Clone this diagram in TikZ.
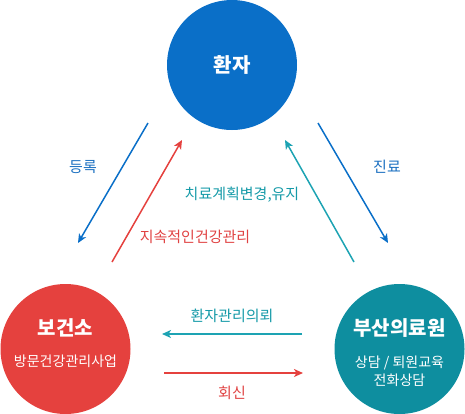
\documentclass[tikz,border=0pt]{standalone}
\usepackage{fontspec}
\setmainfont{Noto Sans CJK KR}
\usetikzlibrary{arrows.meta}
\definecolor{hblue}{HTML}{0A6FC8}
\definecolor{hred}{HTML}{E5413E}
\definecolor{hteal}{HTML}{0E8E9F}
\definecolor{lteal}{HTML}{1DA3B3}
\definecolor{tblue}{HTML}{1A6FC0}
\definecolor{tred}{HTML}{E04242}
\definecolor{tteal}{HTML}{159AA8}

\begin{document}
\begin{tikzpicture}[x=1pt, y=-1pt,
  circ/.style = {circle, minimum size=130pt, inner sep=0pt},
  title/.style = {white, font=\fontsize{20}{22}\selectfont\bfseries},
  sub/.style = {white, font=\fontsize{14}{18}\selectfont, align=center},
  lbl/.style = {font=\fontsize{15}{17}\selectfont},
  arr/.style = {line width=1.5pt, -{Stealth[length=9pt, width=8pt, inset=2.5pt]}}]
\useasboundingbox (0,0) rectangle (465,413);
% circles
\node [circ, fill=hblue] (patient) at (232,65) {};
\node [circ, fill=hred] (center) at (65.5,349) {};
\node [circ, fill=hteal] (hosp) at (399.5,349) {};
\node [title] (patientT) at (232,65) {환자};
\node [title] (centerT) at (65.5,328) {보건소};
\node [sub] (centerS) at (65.5,361) {방문건강관리사업};
\node [title] (hospT) at (399.5,328) {부산의료원};
\node [sub] (hospS) at (399.5,371) {상담 / 퇴원교육\\전화상담};
% arrow ends
\coordinate (regA) at (148,123);
\coordinate (regB) at (78,243);
\coordinate (careA) at (112,262);
\coordinate (careB) at (182,140);
\coordinate (planA) at (354,262);
\coordinate (planB) at (285,140);
\coordinate (treatA) at (318,123);
\coordinate (treatB) at (388,243);
\coordinate (referA) at (302,334);
\coordinate (referB) at (162,334);
\coordinate (replyA) at (164,373);
\coordinate (replyB) at (303,373);
% arrows
\draw [arr, hblue] (regA) -- (regB);
\draw [arr, hred] (careA) -- (careB);
\draw [arr, lteal] (planA) -- (planB);
\draw [arr, hblue] (treatA) -- (treatB);
\draw [arr, lteal] (referA) -- (referB);
\draw [arr, hred] (replyA) -- (replyB);
% labels
\node [lbl, tblue] (regL) at (83,167) {등록};
\node [lbl, tred] (careL) at (195,237) {지속적인건강관리};
\node [lbl, tteal] (planL) at (242,195) {치료계획변경,유지};
\node [lbl, tblue] (treatL) at (387,167) {진료};
\node [lbl, tteal] (referL) at (232,316) {환자관리의뢰};
\node [lbl, tred] (replyL) at (232,393) {회신};
\end{tikzpicture}
\end{document}
